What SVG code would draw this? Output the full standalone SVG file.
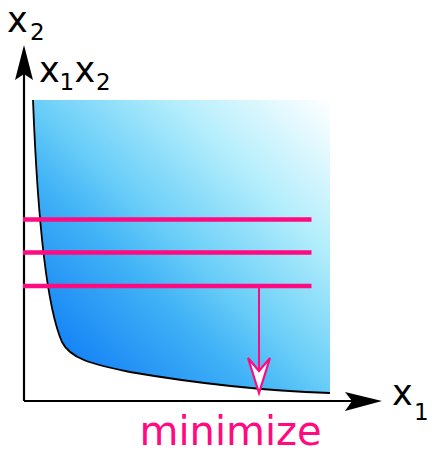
<svg xmlns="http://www.w3.org/2000/svg" width="439" height="461" viewBox="0 0 439 461">
<style>
.lbl{font-family:"DejaVu Sans","Verdana",sans-serif;fill:#000;font-size:35px}
.sub{font-size:23px}
.pink{stroke:#ff0a80;fill:none}
</style>
<defs>
<linearGradient id="g" gradientUnits="userSpaceOnUse" x1="60" y1="380" x2="330" y2="100">
<stop offset="0" stop-color="#0a76f2"/>
<stop offset="0.09" stop-color="#1a88f5"/>
<stop offset="0.33" stop-color="#40b2f6"/>
<stop offset="0.47" stop-color="#6acef8"/>
<stop offset="0.72" stop-color="#b4eefc"/>
<stop offset="1" stop-color="#ffffff"/>
</linearGradient>
</defs>
<rect width="439" height="461" fill="#fff"/>
<g id="region">
<path d="M33,100 L330,100 L330,393 C270,391 200,384 130,372 C90,364 70,358 62,342 C48,310 38,230 33,100 Z" fill="url(#g)"/>
<path d="M33,100 C38,230 48,310 62,342 C70,358 90,364 130,372 C200,384 270,391 330,393" fill="none" stroke="#000" stroke-width="1.8"/>
</g>
<g id="axes">
<path d="M24,401 L24,70" stroke="#000" stroke-width="2.2" fill="none"/>
<path d="M24,401 L356,401" stroke="#000" stroke-width="2.2" fill="none"/>
<path d="M24,45 L33,80 L24,74 L15,80 Z" fill="#000"/>
<path d="M382,401 L345,392 L352,401 L345,411 Z" fill="#000"/>
</g>
<g id="lines">
<path class="pink" d="M23,219.5 H311.5 M23,252.5 H311.5 M23,286 H311.5" stroke-width="4.5"/>
<path class="pink" d="M259,286 V375" stroke-width="2"/>
<path d="M259,393 L248,358 L259,371 L270,358 Z" fill="#fff" stroke="#ff0a80" stroke-width="2.2" stroke-linejoin="miter"/>
</g>
<g id="labels">
<text class="lbl" x="7" y="32">x<tspan class="sub" x="30" y="40">2</tspan></text>
<text class="lbl" x="39" y="82">x<tspan class="sub" x="59.5" y="90">1</tspan><tspan x="74.5" y="82">x</tspan><tspan class="sub" x="96" y="90">2</tspan></text>
<text class="lbl" x="392" y="405">x<tspan class="sub" x="414" y="420">1</tspan></text>
<text x="139.5" y="445" font-family="DejaVu Sans, Verdana, sans-serif" font-size="40" fill="#ff0a80">minimize</text>
</g>
</svg>
